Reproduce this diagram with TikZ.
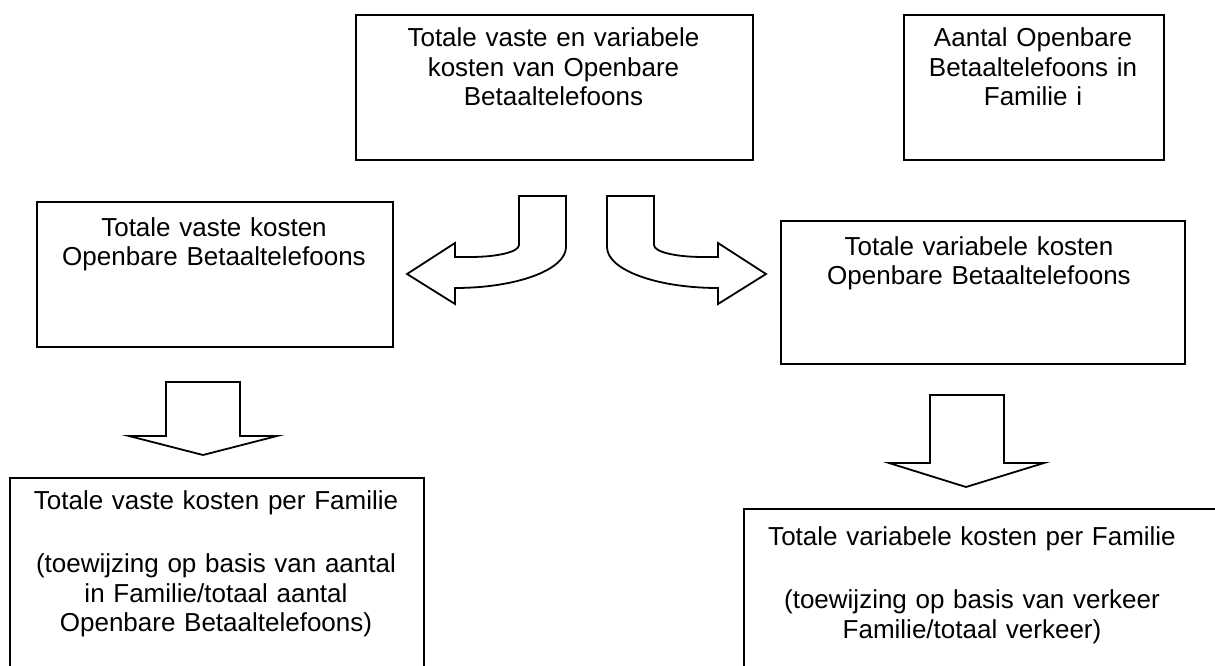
\documentclass[tikz,border=0pt]{standalone}
\usepackage{fontspec}
\setmainfont{Liberation Sans}
\begin{document}
\begin{tikzpicture}[x=1pt,y=-1pt,
  box/.style={draw, line width=1.8pt, anchor=north west, inner sep=0pt},
  lbl/.style={text width=440pt, align=center, anchor=base, inner sep=0pt, font=\fontsize{26}{29.5}\selectfont},
  blockarrow/.style={draw, fill=white, line width=1.8pt, line join=miter}]
\useasboundingbox (0,0) rectangle (1215,666);
\clip (0,0) rectangle (1215,666);

% boxes
\node[box, minimum width=397pt, minimum height=145pt] (top) at (355,14) {};
\node[box, minimum width=260pt, minimum height=145pt] (count) at (903,14) {};
\node[box, minimum width=356pt, minimum height=145pt] (fixed) at (36,201) {};
\node[box, minimum width=404pt, minimum height=143pt] (var) at (780,220) {};
\node[box, minimum width=414pt, minimum height=240pt] (fixedfam) at (9,477) {};
\node[box, minimum width=500pt, minimum height=220pt] (varfam) at (743,508) {};

% texts
\node[lbl] (toptxt) at (553.5,47) {Totale vaste en variabele\\kosten van Openbare\\Betaaltelefoons};
\node[lbl] (counttxt) at (1033,47) {Aantal Openbare\\Betaaltelefoons in\\Familie i};
\node[lbl] (fixedtxt) at (214,236) {Totale vaste kosten\\Openbare Betaaltelefoons};
\node[lbl] (vartxt) at (979,255) {Totale variabele kosten\\Openbare Betaaltelefoons};
\node[lbl] (fixedfamtxt) at (216,509) {Totale vaste kosten per Familie\\[34pt](toewijzing op basis van aantal\\in Familie/totaal aantal\\Openbare Betaaltelefoons)};
\node[lbl, text width=480pt] (varfamtxt) at (972,545) {Totale variabele kosten per Familie\\[34pt](toewijzing op basis van verkeer\\Familie/totaal verkeer)};

% curved block arrows
\draw[blockarrow] (519,196) -- (566,196) -- (566,247)
  .. controls (566,270) and (516,288) .. (455,288)
  -- (455,304) -- (407,274) -- (455,243) -- (455,257) -- (470,257)
  .. controls (497,257) and (519,252) .. (519,245) -- cycle;
\draw[blockarrow] (654,196) -- (607,196) -- (607,247)
  .. controls (607,270) and (657,288) .. (718,288)
  -- (718,304) -- (766,274) -- (718,243) -- (718,257) -- (703,257)
  .. controls (676,257) and (654,252) .. (654,245) -- cycle;

% down block arrows
\draw[blockarrow] (166,382) -- (240,382) -- (240,436) -- (277,436) -- (203,455) -- (129,436) -- (166,436) -- cycle;
\draw[blockarrow] (930,395) -- (1004,395) -- (1004,463) -- (1044,463) -- (966,487) -- (889,463) -- (930,463) -- cycle;
\end{tikzpicture}
\end{document}
